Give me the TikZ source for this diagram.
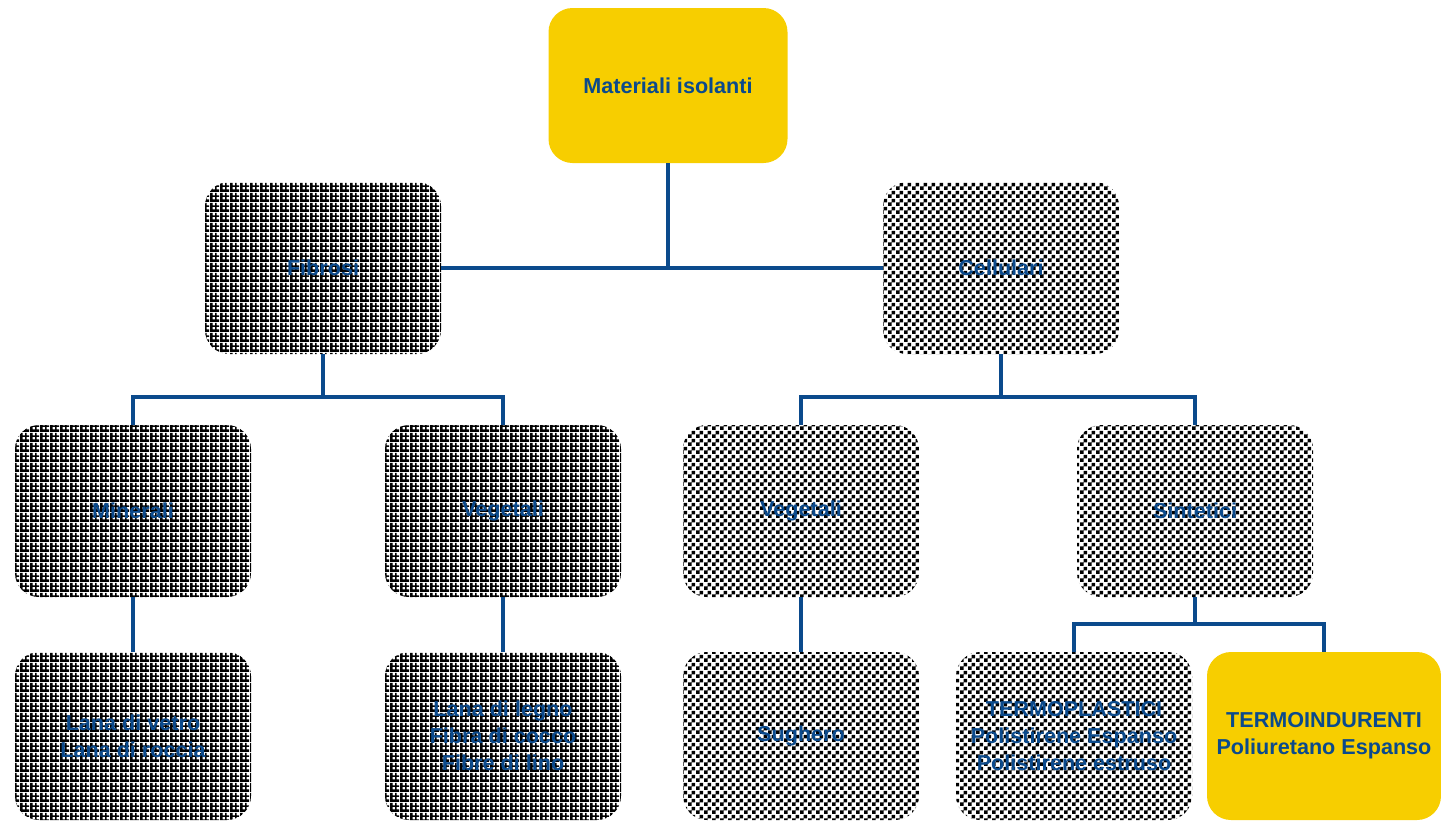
\documentclass[tikz,border=0pt]{standalone}
\usepackage{fontspec}
\setmainfont{Liberation Sans}
\usepackage{tikz}
\usetikzlibrary{patterns}
\definecolor{navy}{HTML}{0B4A8C}
\definecolor{gold}{HTML}{F7CE00}

% dense black grid with small white squares
\pgfdeclarepatternformonly{fibregrid}{\pgfpointorigin}{\pgfqpoint{5pt}{5pt}}{\pgfqpoint{5pt}{5pt}}{
  \pgfpathrectangle{\pgfpointorigin}{\pgfqpoint{5pt}{1.5pt}}
  \pgfpathrectangle{\pgfpointorigin}{\pgfqpoint{1.5pt}{5pt}}
  \pgfpathrectangle{\pgfqpoint{0pt}{2.85pt}}{\pgfqpoint{5pt}{0.8pt}}
  \pgfpathrectangle{\pgfqpoint{2.85pt}{0pt}}{\pgfqpoint{0.8pt}{5pt}}
  \pgfusepath{fill}}
% fine checkerboard
\pgfdeclarepatternformonly{finechecker}{\pgfpointorigin}{\pgfqpoint{4pt}{4pt}}{\pgfqpoint{4pt}{4pt}}{
  \pgfpathrectangle{\pgfpointorigin}{\pgfqpoint{2pt}{2pt}}
  \pgfpathrectangle{\pgfqpoint{2pt}{2pt}}{\pgfqpoint{2pt}{2pt}}
  \pgfusepath{fill}}

\begin{document}
\begin{tikzpicture}[x=0.5pt,y=-0.5pt,
    box/.style={rounded corners=12pt,minimum width=118pt,minimum height=86pt,
      inner sep=2pt,align=center,text=navy,font=\bfseries\fontsize{10.8}{13.5}\selectfont},
    goldbox/.style={box,fill=gold},
    fibbox/.style={box,pattern=fibregrid,pattern color=black},
    celbox/.style={box,pattern=finechecker,pattern color=black},
    conn/.style={navy,line width=2pt}]
  \useasboundingbox (0,0) rectangle (1441,821);

  \node[goldbox,minimum width=119.5pt,minimum height=77.5pt] (root) at (668,85.5) {Materiali isolanti};

  \node[fibbox] (fib) at (323,268) {Fibrosi};
  \node[celbox] (cel) at (1001,268) {Cellulari};

  \node[fibbox] (min) at (133,511) {Minerali};
  \node[fibbox] (vegf) at (503,511) {Vegetali};
  \node[celbox] (vegc) at (801,511) {Vegetali};
  \node[celbox] (sin) at (1195,511) {Sintetici};

  \node[fibbox,minimum height=84pt] (lane) at (133,736) {Lana di vetro\\Lana di roccia};
  \node[fibbox,minimum height=84pt] (fibre) at (503,736) {Lana di legno\\Fibra di cocco\\Fibre di lino};
  \node[celbox,minimum height=84pt] (sug) at (801,736) {Sughero};
  \node[celbox,minimum height=84pt] (tpl) at (1074,736) {TERMOPLASTICI\\Polistirene Espanso\\Polistirene estruso};
  \node[goldbox,minimum width=117pt,minimum height=84pt] (tind) at (1324,736) {TERMOINDURENTI\\Poliuretano Espanso};

  \coordinate (fibjoin) at (323,397);
  \coordinate (celjoin) at (1001,397);
  \coordinate (sinjoin) at (1195,624);

  \draw[conn] (root.south) -- (root.south |- fib.east);
  \draw[conn] (fib.east) -- (cel.west);
  \draw[conn] (fib.south) -- (fibjoin);
  \draw[conn] (min.north) |- (fibjoin) -| (vegf.north);
  \draw[conn] (cel.south) -- (celjoin);
  \draw[conn] (vegc.north) |- (celjoin) -| (sin.north);
  \draw[conn] (min.south) -- (lane.north);
  \draw[conn] (vegf.south) -- (fibre.north);
  \draw[conn] (vegc.south) -- (sug.north);
  \draw[conn] (sin.south) -- (sinjoin);
  \draw[conn] (tpl.north) |- (sinjoin) -| (tind.north);
\end{tikzpicture}
\end{document}
